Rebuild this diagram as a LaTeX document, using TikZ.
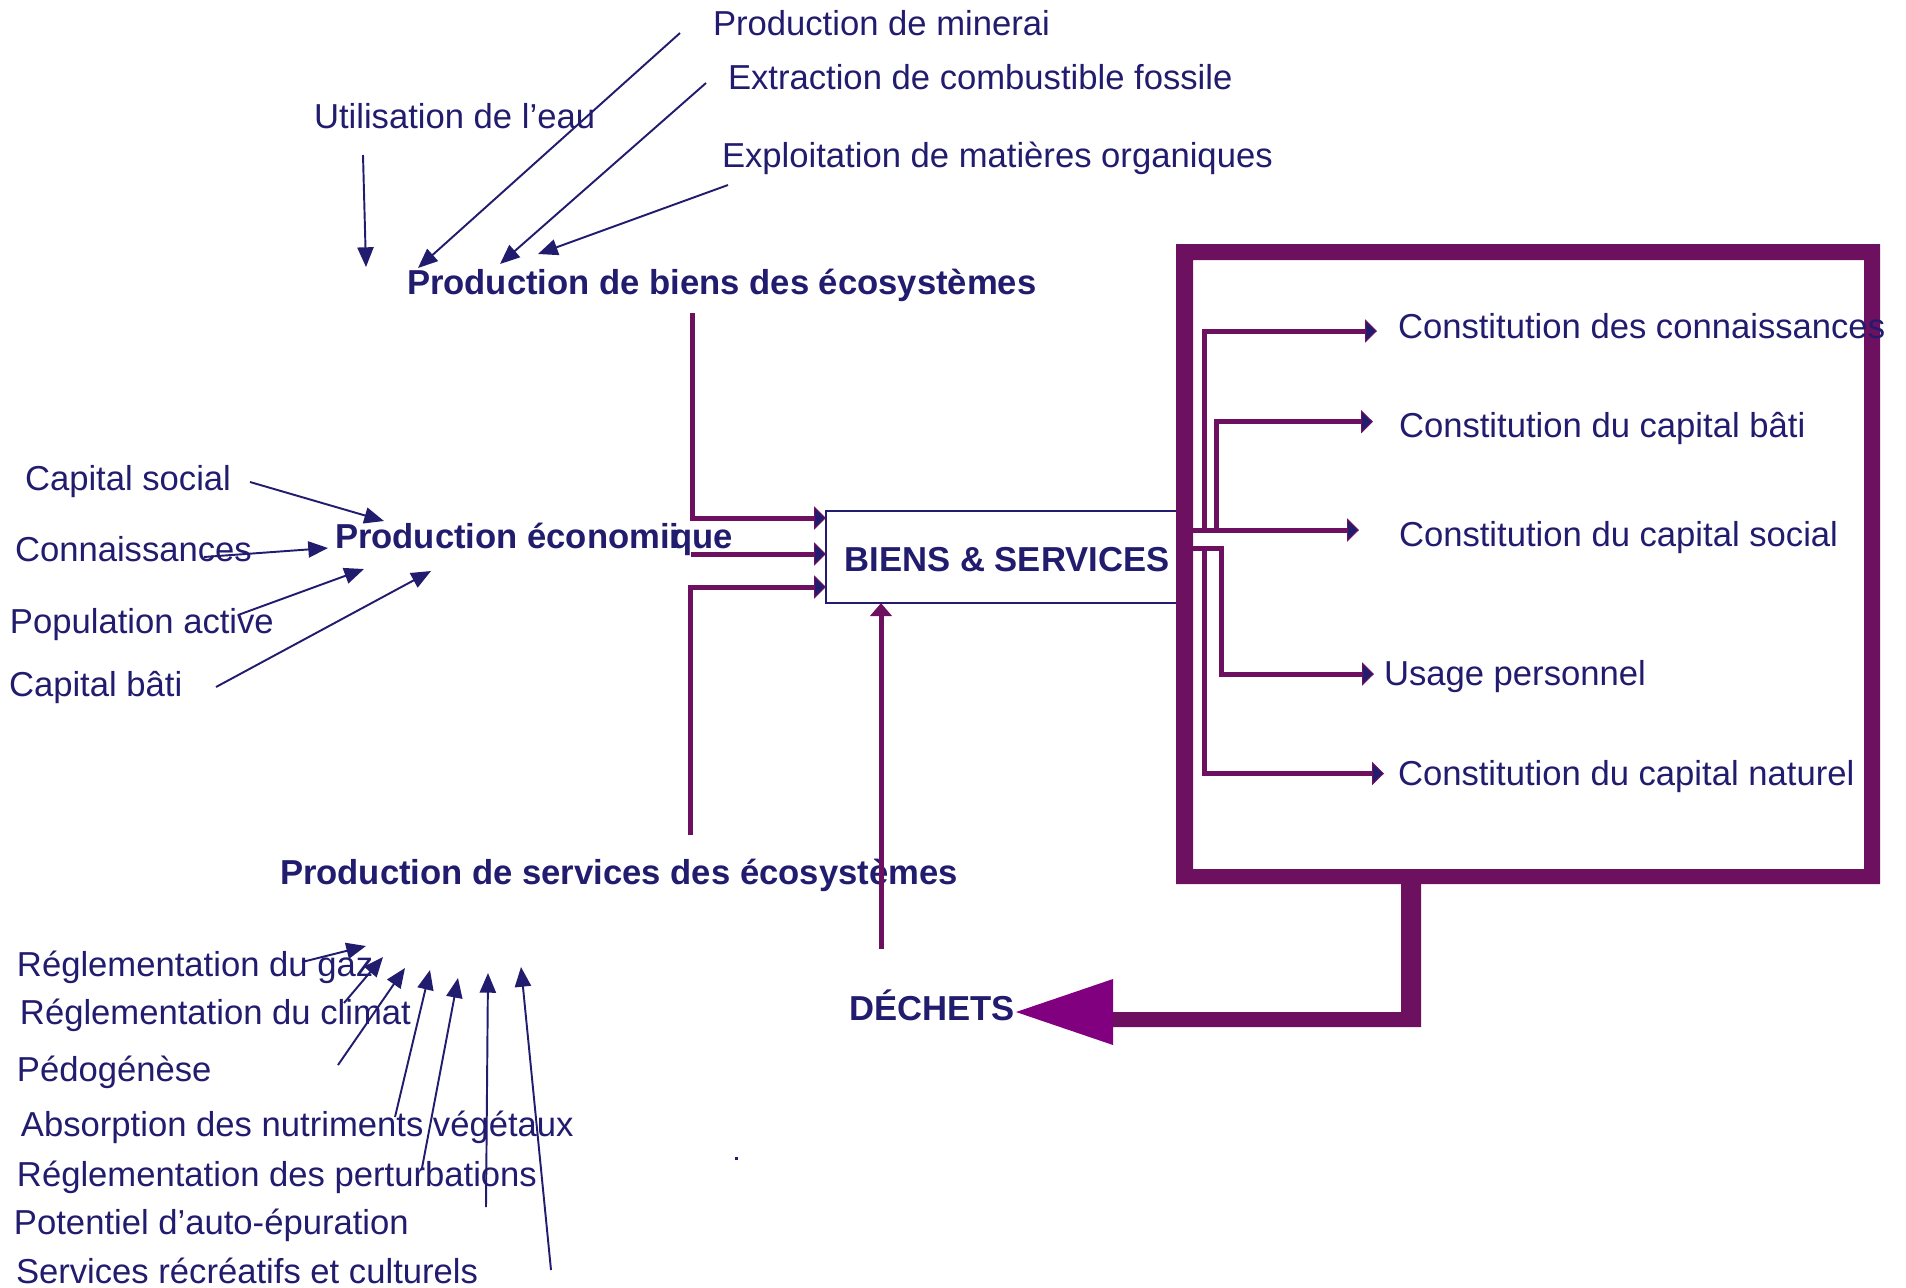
\documentclass[tikz,border=0pt]{standalone}
\usepackage{fontspec}
\setmainfont{Liberation Sans}
\usetikzlibrary{arrows.meta}
\definecolor{ink}{RGB}{33,28,110}
\definecolor{plum}{RGB}{110,16,96}
\definecolor{wastehead}{RGB}{128,0,128}
\begin{document}
\begin{tikzpicture}[x=0.01cm,y=-0.01cm,
  lbl/.style={anchor=base west, inner sep=0pt, outer sep=0pt, text=ink,
    font=\fontsize{9.85}{12}\selectfont},
  hd/.style={lbl, font=\fontsize{9.85}{12}\selectfont\bfseries},
  feed/.style={draw=ink, line width=0.55pt, -{Triangle[length=5.6pt,width=4.6pt]}},
  flow/.style={draw=plum, line width=1.42pt, line join=miter,
    -{Triangle[length=3.4pt,width=6.6pt,fill=ink,line width=0.3pt]}},
]
\useasboundingbox (0,0) rectangle (1906,1287);

% central box
\node[draw=ink, line width=0.6pt, fill=white, anchor=north west, inner sep=0pt,
  outer sep=0pt, minimum width=3.52cm, minimum height=0.92cm, text=ink,
  text height=0.28cm, text depth=0pt,
  font=\fontsize{9.85}{12}\selectfont\bfseries] (bs) at (826,511) {\hspace*{0.1cm}BIENS \& SERVICES};

% outer frame of the uses
\fill[plum, even odd rule] (1176,244) rectangle (1880,884) (1193,260) rectangle (1864,869);

% labels
\node[lbl] (minerai) at (713,35) {Production de minerai};
\node[lbl] (fossile) at (728,89) {Extraction de combustible fossile};
\node[lbl] (eau) at (314,128) {Utilisation de l’eau};
\node[lbl] (orga) at (722,167) {Exploitation de matières organiques};
\node[hd] (pb) at (407,294) {Production de biens des écosystèmes};

\node[lbl] (cs) at (25,490) {Capital social};
\node[lbl] (cn) at (15,561) {Connaissances};
\node[hd] (pe) at (335,548) {Production économii\kern-0.24em que};
\node[lbl] (pa) at (10,633) {Population active};
\node[lbl] (cb) at (9,696) {Capital bâti};

\node[hd] (ps) at (280,884) {Production de services des écosystèmes};
\node[lbl] (s1) at (17,976) {Réglementation du gaz};
\node[lbl] (s2) at (20,1024) {Réglementation du climat};
\node[lbl] (s3) at (17,1081) {Pédogénèse};
\node[lbl] (s4) at (21,1136) {Absorption des nutriments végétaux};
\node[lbl] (s5) at (17,1186) {Réglementation des perturbations};
\node[lbl] (s6) at (14,1234) {Potentiel d’auto-épuration};
\node[lbl] (s7) at (16,1283) {Services récréatifs et culturels};

\node[hd] (dc) at (849,1020) {DÉCHETS};

\node[lbl] (u1) at (1398,338) {Constitution des connaissances};
\node[lbl] (u2) at (1399,437) {Constitution du capital bâti};
\node[lbl] (u3) at (1399,546) {Constitution du capital social};
\node[lbl] (u4) at (1384,685) {Usage personnel};
\node[lbl] (u5) at (1398,785) {Constitution du capital naturel};

% stray dot
\fill[ink] (735,1157) rectangle (738,1160);

% inputs to ecosystem goods
\coordinate (e1) at (366,267);
\coordinate (e2) at (418,268);
\coordinate (e3) at (500,264);
\coordinate (e4) at (538,254);
\draw[feed] (363,155) -- (e1);
\draw[feed] (680,33) -- (e2);
\draw[feed] (706,83) -- (e3);
\draw[feed] (728,185) -- (e4);

% inputs to economic production
\coordinate (p1) at (384,521);
\coordinate (p2) at (328,548);
\coordinate (p3) at (364,569);
\coordinate (p4) at (431,571);
\draw[feed] (250,482) -- (p1);
\draw[feed] (204,557) -- (p2);
\draw[feed] (238,615) -- (p3);
\draw[feed] (216,687) -- (p4);

% inputs to ecosystem services
\coordinate (v1) at (366,946);
\coordinate (v2) at (383,957);
\coordinate (v3) at (405,968);
\coordinate (v4) at (430,970);
\coordinate (v5) at (458,978);
\coordinate (v6) at (488,973);
\coordinate (v7) at (521,967);
\draw[feed] (302,962) -- (v1);
\draw[feed] (344,1003) -- (v2);
\draw[feed] (338,1065) -- (v3);
\draw[feed] (395,1117) -- (v4);
\draw[feed] (422,1168) -- (v5);
\draw[feed] (486,1207) -- (v6);
\draw[feed] (551,1270) -- (v7);

% flows into the central box
\draw[flow] (692,313) -- (692,518) -- (bs.west |- 0,518);
\draw[flow] (691,554) -- (bs.west |- 0,554);
\draw[flow] (690.5,835) -- (690.5,587) -- (bs.west |- 0,587);

% distribution of goods and services
\coordinate (ja) at (1190,530);
\coordinate (jb) at (1190,548.5);
\draw[flow] (ja) -- (1359,530);
\draw[flow] (1204,532) -- (1204,331) -- (1377,331);
\draw[flow] (1216,532) -- (1216,421.7) -- (1373,421.7);
\draw[flow] (jb) -- (1221.5,548.5) -- (1221.5,674) -- (1374,674);
\draw[flow] (1204,548.5) -- (1204,773.5) -- (1384,773.5);

% waste
\fill[plum] (1401,880) -- (1421,880) -- (1421,1027) -- (1110,1027) -- (1110,1012) -- (1401,1012) -- cycle;
\coordinate (wt) at (1016,1012);
\fill[wastehead] (1113,979) -- (1113,1045) -- (wt) -- cycle;
\draw[draw=plum, line width=1.42pt, -{Triangle[length=3.7pt,width=6.1pt]}] (881,949) -- (bs.south -| 881,0);
\end{tikzpicture}
\end{document}
